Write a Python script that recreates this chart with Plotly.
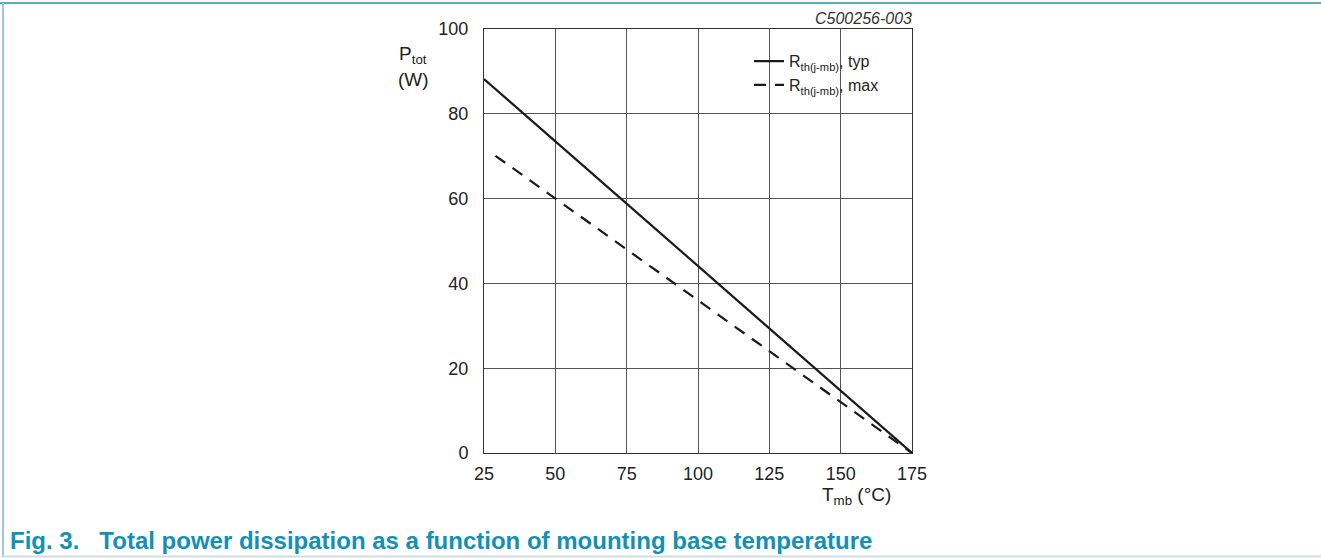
import plotly.graph_objects as go

# Data
temp_typ = [25, 175]
ptot_typ = [88.2, 0]
temp_max = [29, 175]
ptot_max = [70.1, 0]

x_ticks = [25, 50, 75, 100, 125, 150, 175]
y_ticks = [0, 20, 40, 60, 80, 100]

W, H = 1321, 558
L, R, T, B = 484, 912, 29, 453

FONT = "Liberation Sans, Arial"

fig = go.Figure()
fig.add_trace(go.Scatter(x=temp_typ, y=ptot_typ, mode="lines",
                         name="R<sub>th(j-mb)</sub>, typ",
                         line=dict(color="#1a1a1a", width=2.2)))
fig.add_trace(go.Scatter(x=temp_max, y=ptot_max, mode="lines",
                         name="R<sub>th(j-mb)</sub>, max",
                         line=dict(color="#1a1a1a", width=2.2, dash="12px,9px")))

axis_common = dict(showgrid=True, gridcolor="#555555", gridwidth=1,
                   showline=True, linecolor="#333333", linewidth=1, mirror=True,
                   zeroline=False, ticks="", tickfont=dict(family=FONT, size=18, color="#222"))

fig.update_xaxes(range=[25, 175], tickvals=x_ticks, ticklabelstandoff=4, **axis_common)
fig.update_yaxes(range=[0, 100], tickvals=y_ticks, ticklabelstandoff=11, **axis_common)

fig.update_layout(
    width=W, height=H,
    margin=dict(l=L, r=W - R, t=T, b=H - B),
    plot_bgcolor="white", paper_bgcolor="white",
    font=dict(family=FONT, size=16, color="#222"),
    showlegend=True,
    legend=dict(x=(749 - L) / (R - L), y=0.964, xanchor="left", yanchor="top",
                bgcolor="rgba(0,0,0,0)", font=dict(size=16), tracegroupgap=0,
                itemwidth=30),
)

# axis titles
fig.add_annotation(xref="paper", yref="paper", x=(413 - L) / (R - L), y=(B - 55) / (B - T),
                   xanchor="center", yanchor="middle",
                   text="P<sub>tot</sub>", showarrow=False, font=dict(size=19))
fig.add_annotation(xref="paper", yref="paper", x=(413 - L) / (R - L), y=(B - 80) / (B - T),
                   xanchor="center", yanchor="middle",
                   text="(W)", showarrow=False, font=dict(size=19))
fig.add_annotation(xref="paper", yref="paper", x=(856 - L) / (R - L), y=-(496 - B) / (B - T),
                   xanchor="center", yanchor="middle",
                   text="T<sub>mb</sub> (°C)", showarrow=False, font=dict(size=19))
# figure code
fig.add_annotation(xref="paper", yref="paper", x=1.0, y=(B - 19) / (B - T), xanchor="right", yanchor="middle",
                   text="<i>C500256-003</i>", showarrow=False, font=dict(size=16, color="#333"),
                   xshift=2)
# caption
fig.add_annotation(xref="paper", yref="paper", x=(8 - L) / (R - L), y=-(540 - B) / (B - T),
                   xanchor="left", yanchor="middle",
                   text="<b>Fig. 3.   Total power dissipation as a function of mounting base temperature</b>",
                   showarrow=False, font=dict(size=24, color="#1390b5"))

# page border lines
def px(xp):
    return (xp - L) / (R - L)

def py(yp):
    return (B - yp) / (B - T)

fig.add_shape(type="line", xref="paper", yref="paper", x0=px(0), x1=px(W), y0=py(3), y1=py(3),
              line=dict(color="#5aacb8", width=2))
fig.add_shape(type="line", xref="paper", yref="paper", x0=px(3), x1=px(3), y0=py(3), y1=py(557),
              line=dict(color="#9cc9dc", width=2))
fig.add_shape(type="line", xref="paper", yref="paper", x0=px(3), x1=px(W), y0=py(556.5), y1=py(556.5),
              line=dict(color="#cfdde6", width=2))

fig.write_html("out.html", config={"displayModeBar": False},
               post_script="document.body.style.margin='0';document.body.style.overflow='hidden';")
